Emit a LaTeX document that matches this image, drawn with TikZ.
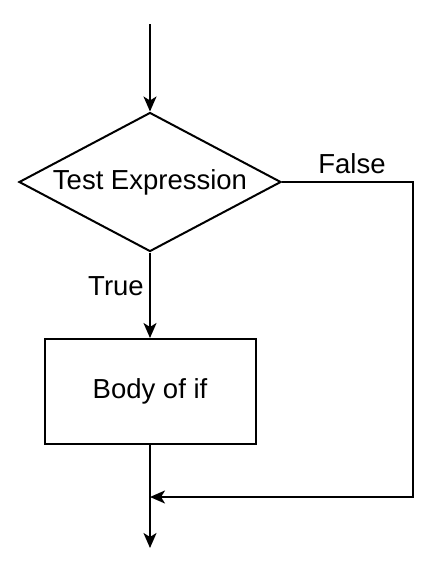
\documentclass[tikz,border=0pt]{standalone}
\usepackage{fontspec}
\setmainfont{Liberation Sans}
\usetikzlibrary{shapes.geometric,arrows.meta}
\tikzset{
  flow/.style={line width=2pt},
  lbl/.style={inner sep=0pt, font=\fontsize{27.5}{32}\selectfont},
}
\begin{document}
\begin{tikzpicture}[x=1pt,y=-1pt, >={Stealth[length=15pt,width=13pt,inset=4pt]}]
\useasboundingbox (0,0) rectangle (437,570);
\fill[white] (0,0) rectangle (437,570);
\node[diamond, draw, flow, minimum width=262pt, minimum height=139pt, inner sep=0pt] (test) at (150,182) {};
\node[lbl] (testtxt) at (test.center) {Test Expression};
\node[draw, flow, minimum width=211pt, minimum height=105pt, inner sep=0pt] (body) at (150,391.5) {};
\node[lbl] (bodytxt) at (body.center) {Body of if};
\coordinate (start) at (150,24);
\coordinate (right) at (413,182);
\coordinate (join) at (150,497);
\coordinate (end) at (150,548);
\node[lbl] (false) at (352,164) {False};
\node[lbl] (true) at (116,286) {True};
\draw[flow,->] (start) -- (test.north);
\draw[flow,->] (test.south) -- (body.north);
\draw[flow,->] (test.east) -- (right) |- (join);
\draw[flow,->] (body.south) -- (end);
\end{tikzpicture}
\end{document}
